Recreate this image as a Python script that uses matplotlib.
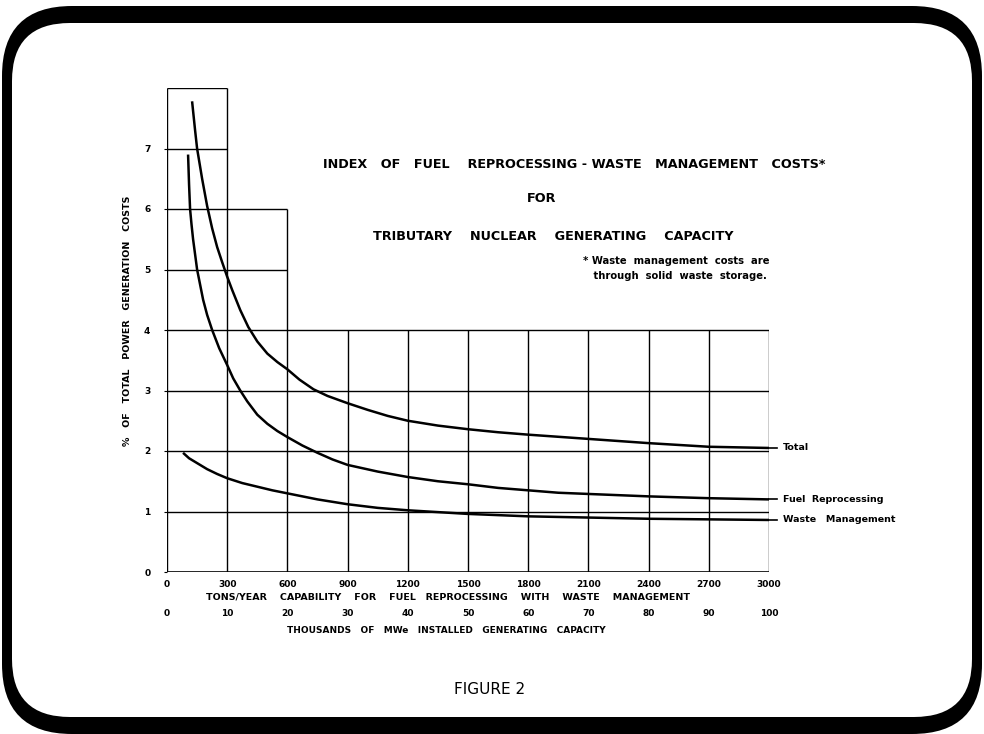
import matplotlib.pyplot as plt
from matplotlib.patches import FancyBboxPatch

# capacidad en toneladas/año y % del costo total de generacion
total_x = [125, 140, 150, 175, 200, 225, 250, 275, 300, 325, 365, 405, 450, 500, 550, 600, 660, 730, 800, 900,
           1000, 1100, 1200, 1350, 1500, 1650, 1800, 2100, 2400, 2700, 3000]
total_y = [7.78, 7.3, 7.0, 6.5, 6.05, 5.68, 5.37, 5.12, 4.88, 4.66, 4.33, 4.05, 3.81, 3.61, 3.47, 3.35, 3.18, 3.02,
           2.91, 2.79, 2.68, 2.58, 2.5, 2.42, 2.36, 2.31, 2.27, 2.2, 2.13, 2.07, 2.05]

fuel_x = [105, 110, 115, 122, 130, 150, 165, 180, 200, 225, 260, 300, 330, 365, 400, 450, 500, 550, 600, 675,
          750, 825, 900, 1050, 1200, 1350, 1500, 1650, 1800, 1950, 2100, 2400, 2700, 3000]
fuel_y = [6.9, 6.4, 6.0, 5.75, 5.5, 5.0, 4.75, 4.5, 4.25, 4.0, 3.7, 3.42, 3.2, 3.0, 2.82, 2.6, 2.45, 2.33, 2.23, 2.09,
          1.97, 1.86, 1.77, 1.66, 1.57, 1.5, 1.45, 1.39, 1.35, 1.31, 1.29, 1.25, 1.22, 1.2]

waste_x = [80, 110, 150, 200, 250, 300, 375, 450, 525, 600, 675, 750, 825, 900, 1050, 1200, 1350, 1500,
           1800, 2100, 2400, 2700, 3000]
waste_y = [1.97, 1.88, 1.8, 1.7, 1.62, 1.55, 1.47, 1.41, 1.35, 1.3, 1.25, 1.2, 1.16, 1.12, 1.06, 1.02, 0.99, 0.96,
           0.92, 0.9, 0.88, 0.87, 0.86]

curvas = [
    ("Total", total_x, total_y),
    ("Fuel  Reprocessing", fuel_x, fuel_y),
    ("Waste   Management", waste_x, waste_y),
]

ticks_tons = [0, 300, 600, 900, 1200, 1500, 1800, 2100, 2400, 2700, 3000]
ticks_mwe = [0, 10, 20, 30, 40, 50, 60, 70, 80, 90, 100]
ticks_y = [0, 1, 2, 3, 4, 5, 6, 7]

# altura de la grilla escalonada en cada linea vertical
grilla_x = [0, 300, 600, 900, 1200, 1500, 1800, 2100, 2400, 2700, 3000]
grilla_alto = [8, 8, 6, 4, 4, 4, 4, 4, 4, 4, 4]
# largo de cada linea horizontal
grilla_y = [1, 2, 3, 4, 5, 6, 7, 8]
grilla_largo = [3000, 3000, 3000, 3000, 600, 600, 300, 300]

fuente = "DejaVu Sans"
fig = plt.figure(figsize=(9.84, 7.34), dpi=100)

# marco redondeado negro, en pixeles
fondo = fig.add_axes([0, 0, 1, 1], zorder=-1)
fondo.set_xlim(0, 984)
fondo.set_ylim(734, 0)
fondo.axis("off")
fondo.add_patch(FancyBboxPatch((2, 6), 980, 728, boxstyle="round,pad=0,rounding_size=70",
                               facecolor="black", edgecolor="none"))
fondo.add_patch(FancyBboxPatch((12, 23), 960, 694, boxstyle="round,pad=0,rounding_size=58",
                               facecolor="white", edgecolor="none"))

ax = fig.add_axes([167 / 984, (734 - 572) / 734, 602 / 984, 484 / 734])
ax.set_xlim(0, 3000)
ax.set_ylim(0, 8)
for s in ax.spines.values():
    s.set_visible(False)
ax.patch.set_alpha(0)

ax.vlines(grilla_x, 0, grilla_alto, color="black", linewidth=1.0)
ax.hlines(grilla_y, 0, grilla_largo, color="black", linewidth=1.0)
ax.hlines(0, 0, 3000, color="black", linewidth=1.2)

for nombre, xs, ys in curvas:
    ax.plot(xs, ys, color="black", linewidth=1.8, solid_capstyle="butt", solid_joinstyle="round")
    ax.plot([xs[-1], xs[-1] + 40], [ys[-1], ys[-1]], color="black", linewidth=1.2, clip_on=False)
    ax.text(3070, ys[-1], nombre, fontsize=6.8, fontweight="bold", family=fuente, va="center", ha="left")

ax.set_xticks(ticks_tons)
ax.set_xticklabels([str(t) for t in ticks_tons], fontsize=6.5, fontweight="bold")
ax.set_yticks(ticks_y)
ax.set_yticklabels([str(t) for t in ticks_y], fontsize=6.5, fontweight="bold")
ax.tick_params(axis="x", length=0, pad=6)
ax.tick_params(axis="y", length=2, pad=10)

ax.text(1400, -0.41, "TONS/YEAR    CAPABILITY    FOR    FUEL   REPROCESSING    WITH    WASTE    MANAGEMENT",
        fontsize=6.8, fontweight="bold", ha="center", va="center", family=fuente)
for t, m in zip(ticks_tons, ticks_mwe):
    ax.text(t, -0.69, str(m), fontsize=6.5, fontweight="bold", ha="center", va="center", family=fuente)
ax.text(1390, -0.97, "THOUSANDS   OF   MWe   INSTALLED   GENERATING   CAPACITY",
        fontsize=6.5, fontweight="bold", ha="center", va="center", family=fuente)

ax.set_ylabel("%   OF   TOTAL   POWER   GENERATION   COSTS", fontsize=6.8, fontweight="bold")
ax.yaxis.set_label_coords(-0.058, 0.52)

ax.text(2028, 6.73, "INDEX   OF   FUEL    REPROCESSING - WASTE   MANAGEMENT   COSTS*",
        fontsize=9.2, fontweight="bold", ha="center", va="center", family=fuente)
ax.text(1869, 6.17, "FOR", fontsize=9.2, fontweight="bold", ha="center", va="center", family=fuente)
ax.text(1923, 5.55, "TRIBUTARY    NUCLEAR    GENERATING    CAPACITY",
        fontsize=9.2, fontweight="bold", ha="center", va="center", family=fuente)
ax.text(2073, 5.02, "* Waste  management  costs  are\n   through  solid  waste  storage.",
        fontsize=7.2, fontweight="bold", ha="left", va="center", family=fuente, linespacing=1.6)

fig.text(490 / 984, 1 - 690 / 734, "FIGURE 2", fontsize=11, ha="center", va="center", family=fuente)

fig.savefig("out.png", dpi=100)
